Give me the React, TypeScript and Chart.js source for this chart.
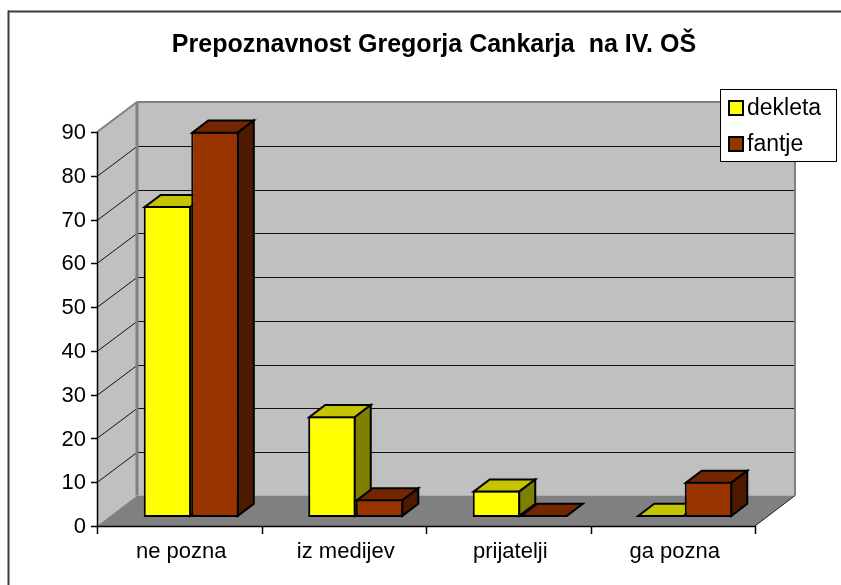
import React, { useEffect, useRef } from "react";
import { Chart, registerables } from "chart.js";

Chart.register(...registerables);

const title = "Prepoznavnost Gregorja Cankarja  na IV. OŠ";
const categories = ["ne pozna", "iz medijev", "prijatelji", "ga pozna"];
const seriesNames = ["dekleta", "fantje"];
const dekleta = [71, 23, 6, 0];
const fantje = [88, 4, 0, 8];
const yTicks = [0, 10, 20, 30, 40, 50, 60, 70, 80, 90];

const FONT = "'Liberation Sans', Arial, sans-serif";
const FRONT = ["#ffff00", "#993300"];
const TOP = ["#c4c400", "#732600"];
const SIDE = ["#808000", "#4d1a00"];

const DEPTH_X = 40;
const DEPTH_Y = -30.4;
const BAR_FRONT = 0.3;
const BAR_DEPTH = 0.4;

function poly(ctx: CanvasRenderingContext2D, pts: number[][], fill: string, stroke?: string, lw = 2) {
  ctx.beginPath();
  ctx.moveTo(pts[0][0], pts[0][1]);
  for (let i = 1; i < pts.length; i++) ctx.lineTo(pts[i][0], pts[i][1]);
  ctx.closePath();
  ctx.fillStyle = fill;
  ctx.fill();
  if (stroke) {
    ctx.lineWidth = lw;
    ctx.strokeStyle = stroke;
    ctx.stroke();
  }
}

function line(ctx: CanvasRenderingContext2D, x1: number, y1: number, x2: number, y2: number, color: string, lw = 1) {
  ctx.beginPath();
  ctx.moveTo(x1, y1);
  ctx.lineTo(x2, y2);
  ctx.strokeStyle = color;
  ctx.lineWidth = lw;
  ctx.stroke();
}

const excel3d = {
  id: "excel3d",
  beforeDatasetsDraw(chart: any) {
    const { ctx, scales } = chart;
    const xs = scales.x;
    const ys = scales.y;
    const L = xs.left;
    const R = xs.right;
    const B = ys.getPixelForValue(0);
    const T = ys.getPixelForValue(yTicks[yTicks.length - 1]);
    ctx.save();
    ctx.fillStyle = "#ffffff";
    ctx.fillRect(0, 0, chart.width, chart.height);
    // outer frame (top and left edges)
    line(ctx, 8, 11.5, chart.width, 11.5, "#3a3a3a", 2);
    line(ctx, 8.5, 10.5, 8.5, chart.height, "#3a3a3a", 2);

    // back wall, side wall, floor
    poly(ctx, [[L + DEPTH_X, T + DEPTH_Y], [R + DEPTH_X, T + DEPTH_Y], [R + DEPTH_X, B + DEPTH_Y], [L + DEPTH_X, B + DEPTH_Y]], "#c0c0c0");
    poly(ctx, [[L, T], [L + DEPTH_X, T + DEPTH_Y], [L + DEPTH_X, B + DEPTH_Y], [L, B]], "#c0c0c0");
    poly(ctx, [[L, B], [R, B], [R + DEPTH_X, B + DEPTH_Y], [L + DEPTH_X, B + DEPTH_Y]], "#808080");

    // gridlines
    for (const v of yTicks) {
      if (v === 0 || v === yTicks[yTicks.length - 1]) continue;
      const py = Math.round(ys.getPixelForValue(v)) + 0.5;
      const by = Math.round(py + DEPTH_Y) + 0.5;
      line(ctx, L + DEPTH_X, by, R + DEPTH_X, by, "#111111", 1);
      line(ctx, L, py, L + DEPTH_X, by, "#111111", 1);
    }
    // wall edges
    const topBack = Math.round(T + DEPTH_Y);
    line(ctx, L + DEPTH_X, topBack, R + DEPTH_X + 1, topBack, "#808080", 2);
    line(ctx, R + DEPTH_X, topBack, R + DEPTH_X, B + DEPTH_Y, "#808080", 2);
    line(ctx, L + DEPTH_X, topBack, L + DEPTH_X, B + DEPTH_Y, "#808080", 3);
    line(ctx, L, T, L + DEPTH_X, topBack, "#808080", 2);
    line(ctx, R, B, R + DEPTH_X, B + DEPTH_Y, "#222222", 1);

    // axes
    line(ctx, L + 0.5, T, L + 0.5, B + 1, "#000000", 1.5);
    line(ctx, L, B + 0.5, R + 1, B + 0.5, "#000000", 1.5);
    for (const v of yTicks) {
      const py = Math.round(ys.getPixelForValue(v)) + 0.5;
      line(ctx, L - 6, py, L, py, "#000000", 1.5);
    }
    const n = categories.length;
    for (let i = 0; i <= n; i++) {
      const px = Math.round(L + ((R - L) * i) / n) + 0.5;
      line(ctx, px, B, px, B + 8, "#000000", 1.5);
    }
    ctx.restore();
  },
  afterDatasetsDraw(chart: any) {
    // redraw bars in the depth plane, category by category, left to right,
    // adding the top and side faces of each bar
    const { ctx } = chart;
    const dx = DEPTH_X * BAR_DEPTH;
    const dy = DEPTH_Y * BAR_DEPTH;
    const metas = chart.data.datasets.map((_: any, i: number) => chart.getDatasetMeta(i));
    ctx.save();
    ctx.translate(DEPTH_X * BAR_FRONT, DEPTH_Y * BAR_FRONT);
    ctx.lineJoin = "miter";
    for (let i = 0; i < categories.length; i++) {
      metas.forEach((meta: any, di: number) => {
        const el = meta.data[i];
        if (!el) return;
        el.draw(ctx);
        const p = el.getProps(["x", "y", "base", "width"], true);
        const left = p.x - p.width / 2 + 1;
        const right = p.x + p.width / 2 - 1;
        const t = Math.min(p.y, p.base);
        const b = Math.max(p.y, p.base) - 1;
        const top = Math.min(t + 1, b);
        poly(ctx, [[left, top], [right, top], [right + dx, top + dy], [left + dx, top + dy]], TOP[di], "#000", 2);
        if (b - top > 0.5) {
          poly(ctx, [[right, top], [right + dx, top + dy], [right + dx, b + dy], [right, b]], SIDE[di], "#000", 2);
        }
      });
    }
    ctx.restore();
  },
  afterDraw(chart: any) {
    const { ctx, scales } = chart;
    const xs = scales.x;
    const ys = scales.y;
    const L = xs.left;
    ctx.save();
    ctx.fillStyle = "#000";
    ctx.font = `bold 25px ${FONT}`;
    ctx.textAlign = "center";
    ctx.textBaseline = "middle";
    ctx.fillText(title, 434, 45);
    ctx.font = `22px ${FONT}`;
    ctx.textAlign = "right";
    ctx.textBaseline = "middle";
    for (const v of yTicks) {
      ctx.fillText(String(v), L - 11, ys.getPixelForValue(v) + 1);
    }
    ctx.font = `22px ${FONT}`;
    ctx.textAlign = "center";
    ctx.textBaseline = "alphabetic";
    categories.forEach((c, i) => {
      ctx.fillText(c, xs.getPixelForValue(i) + 2, 558);
    });
    // legend
    ctx.fillStyle = "#fff";
    ctx.fillRect(720.5, 89.5, 116, 72);
    ctx.strokeStyle = "#000";
    ctx.lineWidth = 1;
    ctx.strokeRect(720.5, 89.5, 116, 72);
    ctx.font = `23px ${FONT}`;
    ctx.textAlign = "left";
    ctx.textBaseline = "middle";
    chart.data.datasets.forEach((ds: any, i: number) => {
      const cy = 108 + i * 36;
      ctx.fillStyle = FRONT[i];
      ctx.fillRect(729, cy - 7, 14, 14);
      ctx.strokeStyle = "#000";
      ctx.lineWidth = 2;
      ctx.strokeRect(729, cy - 7, 14, 14);
      ctx.fillStyle = "#000";
      ctx.fillText(ds.label, 747, cy + 1);
    });
    ctx.restore();
  },
};

export default function App() {
  const ref = useRef<HTMLCanvasElement | null>(null);
  useEffect(() => {
    if (!ref.current) return;
    const chart = new Chart(ref.current, {
      type: "bar",
      data: {
        labels: categories,
        datasets: [
          {
            label: seriesNames[0],
            data: dekleta,
            backgroundColor: FRONT[0],
            borderColor: "#000",
            borderWidth: 2,
            borderSkipped: false,
          },
          {
            label: seriesNames[1],
            data: fantje,
            backgroundColor: FRONT[1],
            borderColor: "#000",
            borderWidth: 2,
            borderSkipped: false,
          },
        ],
      },
      options: {
        responsive: false,
        animation: false,
        events: [],
        layout: { padding: { left: 97, right: 86, top: 132, bottom: 59 } },
        datasets: { bar: { categoryPercentage: 0.578, barPercentage: 1 } },
        scales: {
          x: { display: false, offset: true },
          y: { display: false, min: 0, max: 90 },
        },
        plugins: { legend: { display: false }, title: { display: false }, tooltip: { enabled: false } },
      },
      plugins: [
        excel3d,
        {
          id: "deferBars",
          // the library's own pass would draw the bars in the front plane; skip it so the
          // plugin redraws the same bar elements in the depth plane in painting order
          beforeDatasetDraw() {
            return false;
          },
        },
      ],
    });
    return () => chart.destroy();
  }, []);
  return (
    <div style={{ position: "absolute", left: 0, top: 0, width: 841, height: 585, background: "#fff" }}>
      <canvas ref={ref} width={841} height={585} style={{ display: "block" }} />
    </div>
  );
}
